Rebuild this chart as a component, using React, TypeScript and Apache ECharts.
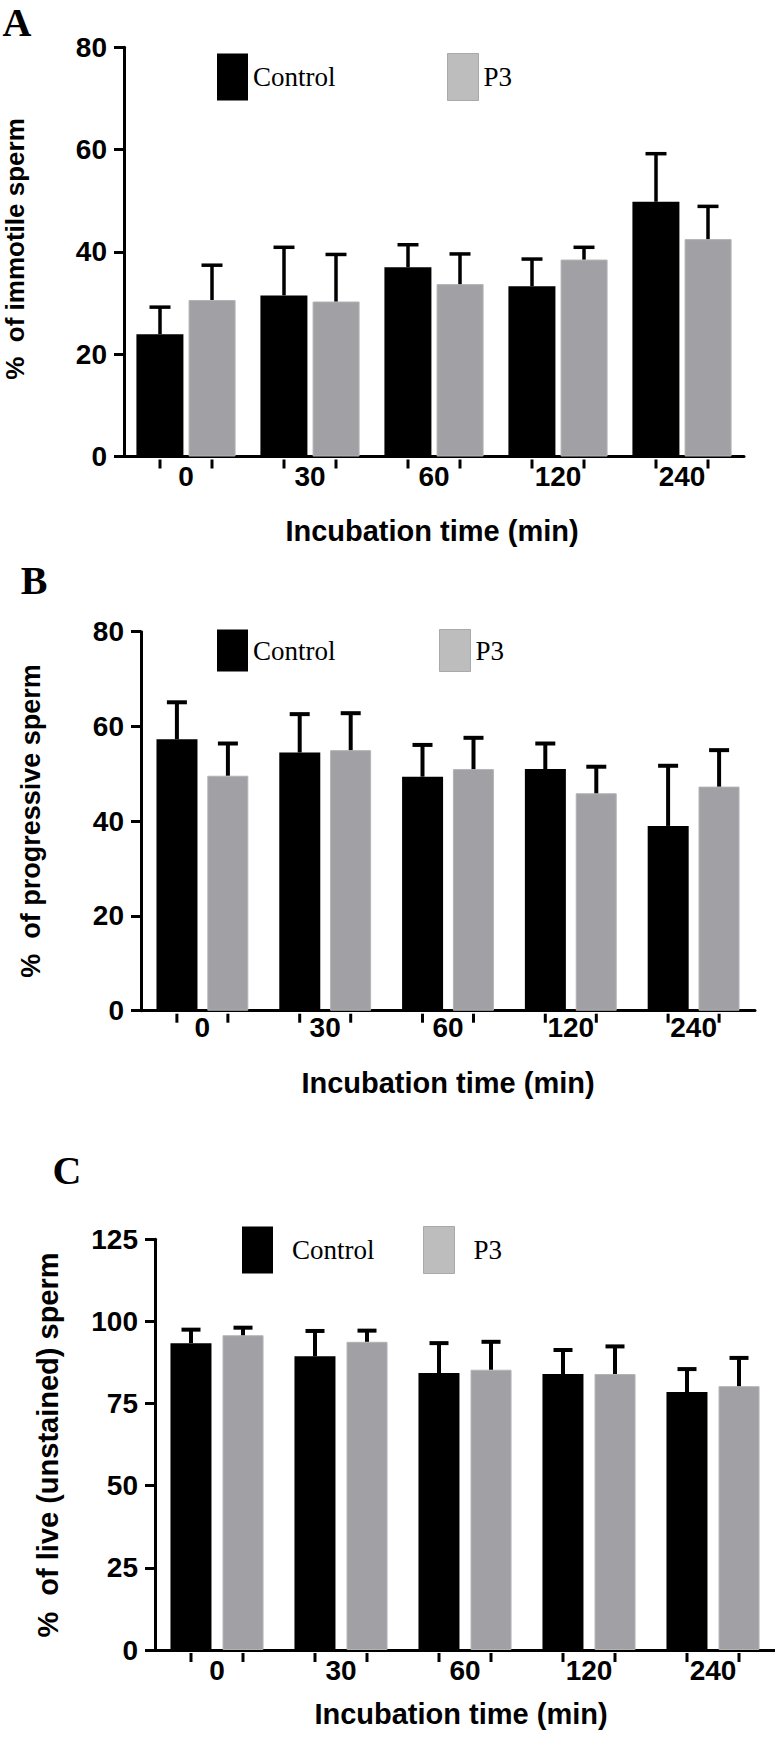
import React, { useEffect, useRef } from 'react';
import * as echarts from 'echarts';

// ---------- data ----------
const categories = ['0', '30', '60', '120', '240'];

// Panel A: % of immotile sperm (mean, SEM)
const immotileControl = [23.9, 31.5, 37.0, 33.3, 49.8];
const immotileControlSem = [5.3, 9.4, 4.4, 5.3, 9.4];
const immotileP3 = [30.6, 30.3, 33.7, 38.5, 42.5];
const immotileP3Sem = [6.8, 9.2, 5.9, 2.4, 6.4];

// Panel B: % of progressive sperm
const progressiveControl = [57.3, 54.5, 49.4, 51.0, 39.0];
const progressiveControlSem = [7.8, 8.1, 6.7, 5.4, 12.7];
const progressiveP3 = [49.6, 55.0, 51.0, 45.9, 47.3];
const progressiveP3Sem = [6.8, 7.8, 6.6, 5.6, 7.7];

// Panel C: % of live (unstained) sperm
const liveControl = [93.4, 89.4, 84.3, 84.0, 78.5];
const liveControlSem = [4.1, 7.7, 9.1, 7.3, 7.0];
const liveP3 = [95.8, 93.8, 85.3, 84.0, 80.3];
const liveP3Sem = [2.3, 3.4, 8.5, 8.4, 8.6];

const seriesNames = ['Control', 'P3'];
const panelLetters = ['A', 'B', 'C'];
const yTitles = ['%  of immotile sperm', '%  of progressive sperm', '%  of live (unstained) sperm'];
const xTitle = 'Incubation time (min)';
const yMax = [80, 80, 125];
const yInterval = [20, 20, 25];

const panelData = [
  { c: immotileControl, cs: immotileControlSem, p: immotileP3, ps: immotileP3Sem },
  { c: progressiveControl, cs: progressiveControlSem, p: progressiveP3, ps: progressiveP3Sem },
  { c: liveControl, cs: liveControlSem, p: liveP3, ps: liveP3Sem },
];

// ---------- layout / style ----------
const layouts = [
  {
    grid: { left: 124, top: 47.3, width: 620, height: 409.2 },
    barWidth: 47, barGap: '11%', off: 26, errLw: 3.5, cap: 21,
    tickFont: 28, yMargin: 17, xMargin: 6,
    legend: { left: 217, top: 53, itemHeight: 47, itemGap: 111.5, pad: 0 },
    letter: { x: 17, y: 22 },
    yTitle: { x: 15, y: 249, size: 26 },
    xTitle: { x: 432, y: 531 },
  },
  {
    grid: { left: 141, top: 631.7, width: 614, height: 379 },
    barWidth: 41, barGap: '24%', off: 25.5, errLw: 4, cap: 20,
    tickFont: 28, yMargin: 17, xMargin: 3,
    legend: { left: 217, top: 629, itemHeight: 42, itemGap: 103.5, pad: 0 },
    letter: { x: 34, y: 580 },
    yTitle: { x: 31, y: 821, size: 27 },
    xTitle: { x: 448, y: 1083 },
  },
  {
    grid: { left: 155, top: 1239.3, width: 620, height: 410.7 },
    barWidth: 41, barGap: '27%', off: 26, errLw: 4, cap: 19,
    tickFont: 28, yMargin: 17, xMargin: 6,
    legend: { left: 242, top: 1226, itemHeight: 47, itemGap: 48.5, pad: 14 },
    letter: { x: 67, y: 1170 },
    yTitle: { x: 48, y: 1445, size: 29 },
    xTitle: { x: 461, y: 1714 },
  },
];

const SANS = '"Liberation Sans", Arial, sans-serif';
const SERIF = '"Liberation Serif", "Times New Roman", serif';
const CONTROL_COLOR = '#000000';
const P3_COLOR = '#a1a1a5';
const P3_LEGEND = '#bdbdbd';

function errorSeries(k: number, means: number[], sems: number[], sign: number, lay: any) {
  return {
    type: 'custom',
    name: seriesNames[sign < 0 ? 0 : 1] + ' SEM',
    xAxisIndex: k,
    yAxisIndex: k,
    silent: true,
    clip: false,
    z: 5,
    encode: { x: 0, y: [1, 2] },
    data: means.map((m, i) => [i, m, m + sems[i]]),
    renderItem: (params: any, api: any) => {
      const base = api.coord([api.value(0), api.value(1)]);
      const top = api.coord([api.value(0), api.value(2)]);
      const x = base[0] + sign * lay.off;
      return {
        type: 'group',
        children: [
          { type: 'line', shape: { x1: x, y1: base[1], x2: x, y2: top[1] }, style: { stroke: '#000', lineWidth: lay.errLw } },
          { type: 'line', shape: { x1: x - lay.cap / 2, y1: top[1], x2: x + lay.cap / 2, y2: top[1] }, style: { stroke: '#000', lineWidth: lay.errLw } },
        ],
      };
    },
  };
}

function barTickSeries(k: number, lay: any) {
  return {
    type: 'custom',
    name: 'ticks' + k,
    xAxisIndex: k,
    yAxisIndex: k,
    silent: true,
    clip: false,
    z: 5,
    data: categories.map((_, i) => [i, 0]),
    renderItem: (params: any, api: any) => {
      const p = api.coord([api.value(0), 0]);
      return {
        type: 'group',
        children: [-lay.off, lay.off].map((d) => ({
          type: 'line',
          shape: { x1: p[0] + d, y1: p[1] + 3, x2: p[0] + d, y2: p[1] + 12 },
          style: { stroke: '#000', lineWidth: 3 },
        })),
      };
    },
  };
}

function buildOption() {
  const grids: any[] = [];
  const xAxes: any[] = [];
  const yAxes: any[] = [];
  const legends: any[] = [];
  const series: any[] = [];
  const graphics: any[] = [];

  layouts.forEach((lay, k) => {
    const d = panelData[k];
    grids.push({ ...lay.grid, containLabel: false, outerBoundsMode: 'none' });
    xAxes.push({
      type: 'category',
      gridIndex: k,
      data: categories,
      axisLine: { show: true, lineStyle: { color: '#000', width: 3 } },
      axisTick: { show: false },
      splitLine: { show: false },
      axisLabel: { color: '#000', fontFamily: SANS, fontWeight: 'bold', fontSize: lay.tickFont, margin: lay.xMargin },
    });
    yAxes.push({
      type: 'value',
      gridIndex: k,
      min: 0,
      max: yMax[k],
      interval: yInterval[k],
      axisLine: { show: true, lineStyle: { color: '#000', width: 3 } },
      axisTick: { show: true, length: 10, lineStyle: { color: '#000', width: 3 } },
      splitLine: { show: false },
      axisLabel: { color: '#000', fontFamily: SANS, fontWeight: 'bold', fontSize: lay.tickFont, margin: lay.yMargin },
    });
    legends.push({
      left: lay.legend.left,
      top: lay.legend.top,
      padding: 0,
      orient: 'horizontal',
      icon: 'rect',
      itemWidth: 31,
      itemHeight: lay.legend.itemHeight,
      itemGap: lay.legend.itemGap,
      selectedMode: false,
      textStyle: { fontFamily: SERIF, fontSize: 27, color: '#000', padding: [0, 0, 0, lay.legend.pad] },
      data: [
        { name: seriesNames[0], itemStyle: { color: CONTROL_COLOR } },
        { name: seriesNames[1], itemStyle: { color: P3_LEGEND, borderColor: '#a9a9a9', borderWidth: 1 } },
      ],
    });
    series.push({
      type: 'bar',
      name: seriesNames[0],
      xAxisIndex: k,
      yAxisIndex: k,
      data: d.c,
      barWidth: lay.barWidth,
      barGap: lay.barGap,
      itemStyle: { color: CONTROL_COLOR },
      z: 2,
    });
    series.push({
      type: 'bar',
      name: seriesNames[1],
      xAxisIndex: k,
      yAxisIndex: k,
      data: d.p,
      barWidth: lay.barWidth,
      barGap: lay.barGap,
      itemStyle: { color: P3_COLOR, borderColor: '#b3b3b6', borderWidth: 1 },
      z: 2,
    });
    series.push(errorSeries(k, d.c, d.cs, -1, lay));
    series.push(errorSeries(k, d.p, d.ps, 1, lay));
    series.push(barTickSeries(k, lay));

    graphics.push({
      type: 'text',
      x: lay.letter.x,
      y: lay.letter.y,
      style: {
        text: panelLetters[k],
        font: 'bold 40px ' + SERIF,
        fill: '#000',
        align: 'center',
        verticalAlign: 'middle',
        textAlign: 'center',
        textVerticalAlign: 'middle',
      },
    });
    graphics.push({
      type: 'text',
      x: lay.yTitle.x,
      y: lay.yTitle.y,
      rotation: Math.PI / 2,
      style: {
        text: yTitles[k],
        font: 'bold ' + lay.yTitle.size + 'px ' + SANS,
        fill: '#000',
        align: 'center',
        verticalAlign: 'middle',
        textAlign: 'center',
        textVerticalAlign: 'middle',
      },
    });
    graphics.push({
      type: 'text',
      x: lay.xTitle.x,
      y: lay.xTitle.y,
      style: {
        text: xTitle,
        font: 'bold 29px ' + SANS,
        fill: '#000',
        align: 'center',
        verticalAlign: 'middle',
        textAlign: 'center',
        textVerticalAlign: 'middle',
      },
    });
  });

  return {
    animation: false,
    backgroundColor: '#ffffff',
    grid: grids,
    xAxis: xAxes,
    yAxis: yAxes,
    legend: legends,
    series,
    graphic: graphics,
  };
}

export default function App() {
  const ref = useRef<HTMLDivElement>(null);
  useEffect(() => {
    if (!ref.current) return;
    const chart = echarts.init(ref.current, undefined, { renderer: 'svg' });
    chart.setOption(buildOption() as any);
    return () => {
      chart.dispose();
    };
  }, []);
  return (
    <div
      ref={ref}
      style={{ position: 'absolute', left: 0, top: 0, width: 775, height: 1747, background: '#fff' }}
    />
  );
}
